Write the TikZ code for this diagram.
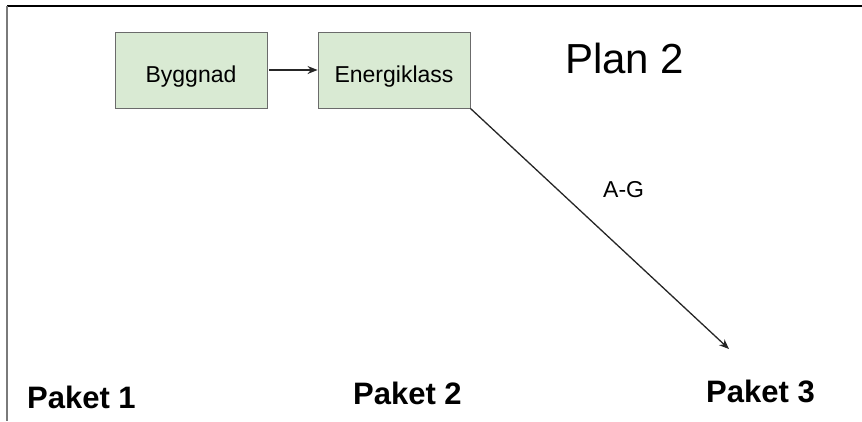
\documentclass[tikz,border=0pt]{standalone}
\usepackage{fontspec}
\setmainfont{Liberation Sans}
\usetikzlibrary{arrows.meta}
\definecolor{boxfill}{HTML}{D9EAD3}
\definecolor{boxline}{HTML}{6B6B6B}
\definecolor{frameleft}{HTML}{7A7A7A}
\tikzset{
  stepbox/.style={draw=boxline, line width=0.9pt, fill=boxfill, minimum width=152pt, minimum height=76pt, inner sep=0pt, text height=24pt, text depth=0pt, font=\fontsize{23}{26}\selectfont},
  link/.style={draw=black!85, line width=1.3pt, -{Stealth[length=10pt,width=8pt]}},
  pkg/.style={anchor=base west, inner sep=0pt, font=\fontsize{31}{36}\selectfont\bfseries},
  plain/.style={anchor=base west, inner sep=0pt}
}
\begin{document}
\begin{tikzpicture}[x=1pt, y=-1pt]
  \useasboundingbox (0,0) rectangle (862,421);
  % frame edges
  \draw[black, line width=1.6pt] (7,6) -- (862,6);
  \draw[frameleft, line width=2pt] (7,6) -- (7,421);

  % title
  \node[plain, font=\fontsize{42}{48}\selectfont] (title) at (565,73) {Plan 2};

  % boxes
  \node[stepbox] (bygg) at (191,70) {Byggnad};
  \node[stepbox] (energi) at (394,70) {Energiklass};

  % connectors
  \path (bygg.east) ++(2pt,0) coordinate (bstart);
  \draw[link] (bstart) -- (energi.west);
  \coordinate (tip) at (729,349);
  \draw[link] (energi.south east) -- (tip);
  \node[plain, font=\fontsize{23}{26}\selectfont] (ag) at (603,197) {A-G};

  % packages
  \node[pkg] (p1) at (27,408) {Paket 1};
  \node[pkg] (p2) at (353,404) {Paket 2};
  \node[pkg] (p3) at (706,402) {Paket 3};
\end{tikzpicture}
\end{document}
